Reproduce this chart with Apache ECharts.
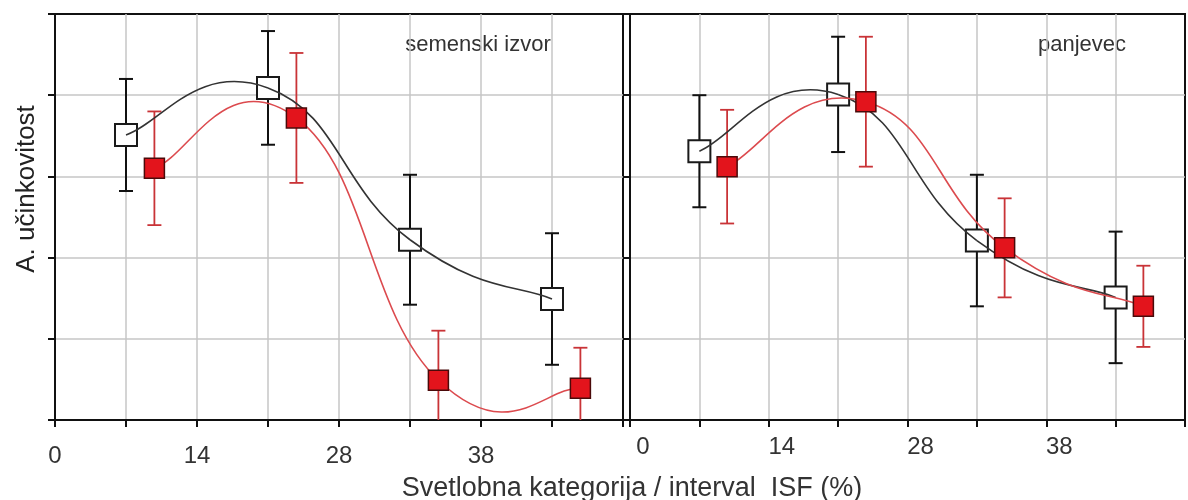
<!DOCTYPE html>
<html>
<head>
<meta charset="utf-8">
<script src="https://cdn.jsdelivr.net/npm/echarts@6/dist/echarts.min.js"></script>
<style>
  html, body { margin: 0; padding: 0; background: #fff; }
  #chart { width: 1188px; height: 500px; }
</style>
</head>
<body>
<div id="chart"></div>
<script>
// Tick labels of the light-class axis (one label every second tick)
const xTickLabels = ['0', '', '14', '', '28', '', '38', '', ''];
const panelNames = ['semenski izvor', 'panjevec'];
const xAxisTitle = 'Svetlobna kategorija / interval  ISF (%)';
const yAxisTitle = 'A. učinkovitost';

// Light classes, placed at the centre of each interval on the index scale
const classPos = [1, 3, 5, 7];

// semenski izvor
const seedBlackMean = [3.51, 4.09, 2.22, 1.49];
const seedBlackErr  = [0.69, 0.70, 0.80, 0.81];
const seedRedMean   = [3.10, 3.72, 0.49, 0.39];
const seedRedErr    = [0.70, 0.80, 0.61, 0.50];

// panjevec
const coppiceBlackMean = [3.31, 4.01, 2.21, 1.51];
const coppiceBlackErr  = [0.69, 0.71, 0.81, 0.81];
const coppiceRedMean   = [3.12, 3.92, 2.12, 1.40];
const coppiceRedErr    = [0.70, 0.80, 0.61, 0.50];

const FONT = 'Liberation Sans, Arial, sans-serif';
const RED_SHIFT = 0.4;                 // red markers sit a bit right of the black ones
const redPos = classPos.map(x => x + RED_SHIFT);

const BLACK_LINE = '#333333';
const RED_LINE = '#dc4a4e';
const RED_BAR = '#c93337';
const RED_FILL = '#e3141c';
const SPLINE_TENSION = 0.25;           // cardinal spline control-point factor

function pairs(xs, ys) { return xs.map((x, i) => [x, ys[i]]); }

function errorBars(idx, xs, mean, err, color, width, z) {
  return {
    type: 'custom',
    xAxisIndex: idx, yAxisIndex: idx,
    clip: true, z: z, silent: true,
    data: xs.map((x, i) => [x, mean[i] - err[i], mean[i] + err[i]]),
    encode: { x: 0, y: [1, 2] },
    renderItem: function (params, api) {
      const lo = api.coord([api.value(0), api.value(1)]);
      const hi = api.coord([api.value(0), api.value(2)]);
      const hw = 7;
      const style = { stroke: color, lineWidth: width, fill: null };
      return {
        type: 'group',
        children: [
          { type: 'line', shape: { x1: lo[0], y1: lo[1], x2: hi[0], y2: hi[1] }, style: style },
          { type: 'line', shape: { x1: lo[0] - hw, y1: lo[1], x2: lo[0] + hw, y2: lo[1] }, style: style },
          { type: 'line', shape: { x1: hi[0] - hw, y1: hi[1], x2: hi[0] + hw, y2: hi[1] }, style: style }
        ]
      };
    }
  };
}

// Smooth curve through the means: one cubic Bezier segment per pair of points,
// control points from a cardinal spline in screen space.
function curve(idx, xs, ys, color, z) {
  const pts = pairs(xs, ys);
  const n = pts.length;
  return {
    type: 'custom', xAxisIndex: idx, yAxisIndex: idx,
    data: pts, encode: { x: 0, y: 1 }, z: z, silent: true, clip: true,
    renderItem: function (params, api) {
      const i = params.dataIndex;
      if (i >= n - 1) return { type: 'group', children: [] };
      const c = pts.map(p => api.coord(p));
      const p0 = c[Math.max(i - 1, 0)], p1 = c[i], p2 = c[i + 1], p3 = c[Math.min(i + 2, n - 1)];
      const k = SPLINE_TENSION;
      return {
        type: 'bezierCurve',
        shape: {
          x1: p1[0], y1: p1[1], x2: p2[0], y2: p2[1],
          cpx1: p1[0] + (p2[0] - p0[0]) * k, cpy1: p1[1] + (p2[1] - p0[1]) * k,
          cpx2: p2[0] - (p3[0] - p1[0]) * k, cpy2: p2[1] - (p3[1] - p1[1]) * k
        },
        style: { stroke: color, lineWidth: 1.6, fill: null }
      };
    }
  };
}

function markers(idx, xs, ys, filled, z) {
  return {
    type: 'scatter', xAxisIndex: idx, yAxisIndex: idx,
    data: pairs(xs, ys), symbol: 'rect',
    symbolSize: filled ? 20 : 22,
    itemStyle: filled
      ? { color: RED_FILL, borderColor: '#4a0a0a', borderWidth: 1.5, opacity: 1 }
      : { color: '#ffffff', borderColor: '#1a1a1a', borderWidth: 2, opacity: 1 },
    z: z, silent: true
  };
}

function xAxisFor(idx, max, labelMargin, labelPadLeft) {
  return {
    type: 'value', gridIndex: idx, min: 0, max: max, interval: 1,
    axisLine: { show: true, onZero: false, lineStyle: { color: '#111', width: 2 } },
    axisTick: { show: true, inside: false, length: 7, lineStyle: { color: '#111', width: 2 } },
    axisLabel: {
      show: true, fontSize: 24, fontFamily: FONT, color: '#333',
      margin: labelMargin, padding: [0, 0, 0, labelPadLeft],
      showMinLabel: true, showMaxLabel: true,
      formatter: v => xTickLabels[Math.round(v)] || ''
    },
    splitLine: { show: true, showMinLine: false, showMaxLine: false, lineStyle: { color: '#c6c6c6', width: 1.5 } }
  };
}

function yAxisFor(idx) {
  return {
    type: 'value', gridIndex: idx, min: 0, max: 5, interval: 1,
    axisLine: { show: true, onZero: false, lineStyle: { color: '#111', width: 2 } },
    axisTick: { show: true, inside: false, length: 7, lineStyle: { color: '#111', width: 2 } },
    axisLabel: { show: false },
    splitLine: { show: true, showMinLine: false, showMaxLine: false, lineStyle: { color: '#c6c6c6', width: 1.5 } }
  };
}

const chart = echarts.init(document.getElementById('chart'), null, { renderer: 'canvas' });

chart.setOption({
  backgroundColor: '#ffffff',
  animation: false,
  grid: [
    { left: 55, right: 565, top: 14, bottom: 80, show: true, borderColor: '#111', borderWidth: 2, backgroundColor: 'transparent' },
    { left: 630, right: -8, top: 14, bottom: 80, show: true, borderColor: '#111', borderWidth: 2, backgroundColor: 'transparent' }
  ],
  xAxis: [xAxisFor(0, 8, 24, 0), xAxisFor(1, 8, 15, 26)],
  yAxis: [yAxisFor(0), yAxisFor(1)],
  series: [
    // semenski izvor
    errorBars(0, classPos, seedBlackMean, seedBlackErr, '#111', 2, 2),
    errorBars(0, redPos, seedRedMean, seedRedErr, RED_BAR, 1.8, 2),
    markers(0, classPos, seedBlackMean, false, 3),
    curve(0, classPos, seedBlackMean, BLACK_LINE, 4),
    curve(0, redPos, seedRedMean, RED_LINE, 4),
    markers(0, redPos, seedRedMean, true, 5),
    // panjevec
    errorBars(1, classPos, coppiceBlackMean, coppiceBlackErr, '#111', 2, 2),
    errorBars(1, redPos, coppiceRedMean, coppiceRedErr, RED_BAR, 1.8, 2),
    markers(1, classPos, coppiceBlackMean, false, 3),
    curve(1, classPos, coppiceBlackMean, BLACK_LINE, 4),
    curve(1, redPos, coppiceRedMean, RED_LINE, 4),
    markers(1, redPos, coppiceRedMean, true, 5)
  ],
  graphic: [
    { type: 'text', x: 478, y: 45, silent: true,
      style: { text: panelNames[0], fontSize: 22, fontFamily: FONT, fill: '#333', align: 'center', verticalAlign: 'middle' } },
    { type: 'text', x: 1082, y: 45, silent: true,
      style: { text: panelNames[1], fontSize: 22, fontFamily: FONT, fill: '#333', align: 'center', verticalAlign: 'middle' } },
    { type: 'text', x: 632, y: 489, silent: true,
      style: { text: xAxisTitle, fontSize: 27, fontFamily: FONT, fill: '#333', align: 'center', verticalAlign: 'middle' } },
    { type: 'text', x: 27, y: 189, rotation: Math.PI / 2, silent: true,
      style: { text: yAxisTitle, fontSize: 26, fontFamily: FONT, fill: '#222', align: 'center', verticalAlign: 'middle' } }
  ]
});
</script>
</body>
</html>
